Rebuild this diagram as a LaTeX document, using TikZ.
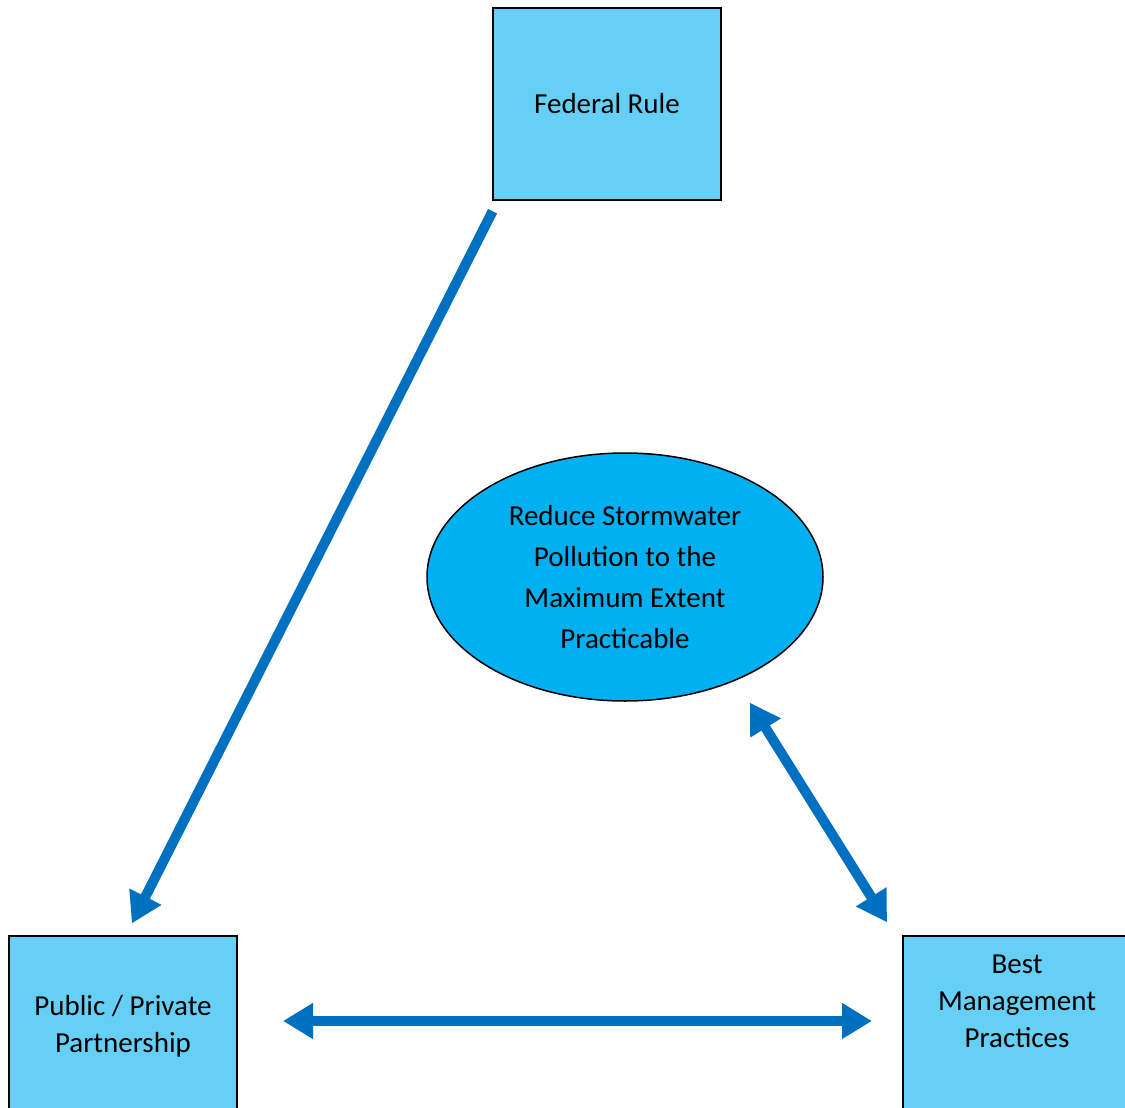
\documentclass[tikz,border=0pt]{standalone}
\usepackage{fontspec}
\setmainfont{Carlito}
\usetikzlibrary{arrows.meta,shapes.geometric}
\definecolor{boxblue}{RGB}{102,207,245}
\definecolor{goalblue}{RGB}{0,176,240}
\definecolor{arrowblue}{RGB}{0,112,192}
\begin{document}
\begin{tikzpicture}[x=1pt,y=-1pt,>={Triangle[width=34pt,length=30pt]},txt/.style={align=center,font=\fontsize{29}{37}\selectfont},box/.style={txt,draw,line width=2pt,fill=boxblue,minimum width=228pt,inner sep=0pt},goal/.style={ellipse,draw,line width=1.5pt,fill=goalblue,minimum width=396pt,minimum height=248pt,inner sep=0pt,align=center,font=\fontsize{29}{41}\selectfont},link/.style={draw=arrowblue,line width=10pt}]
\useasboundingbox (0,0) rectangle (1125,1108);
\clip (0,0) rectangle (1125,1108);
\node[box,minimum height=191pt] (fed) at (607,104) {Federal Rule};
\node[box,minimum height=180pt] (ppp) at (123,1026) {Public / Private\\Partnership};
\node[box,minimum height=191pt,label={[txt,anchor=north,inner sep=0pt,yshift=-20pt]north:Best\\Management\\Practices}] (bmp) at (1017,1031.5) {};
\node[goal] (goal) at (625,577) {Reduce Stormwater\\Pollution to the\\Maximum Extent\\Practicable};
\draw[link,->,shorten <=12pt,shorten >=13pt] ([xshift=6pt]fed.south west) -- ([xshift=3pt]ppp.north);
\draw[link,<->,shorten <=45pt,shorten >=30pt] ([yshift=5pt]ppp.east) -- ([yshift=10.5pt]bmp.west);
\draw[link,<->,shorten <=26pt,shorten >=15pt] (goal.-43) -- ([xshift=-7pt]bmp.north west);
\end{tikzpicture}
\end{document}
